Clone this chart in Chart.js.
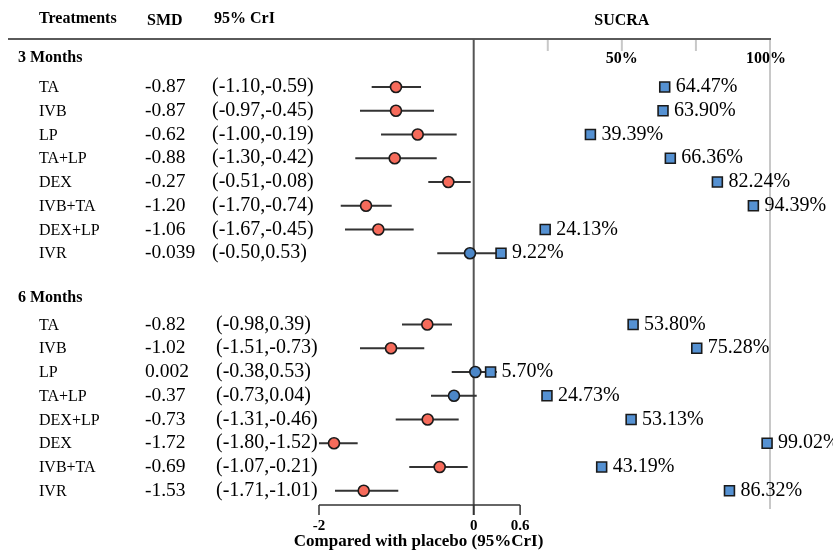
<!DOCTYPE html>
<html>
<head>
<meta charset="utf-8">
<script src="https://cdn.jsdelivr.net/npm/chart.js@4.4.1/dist/chart.umd.min.js"></script>
<style>
html,body{margin:0;padding:0;background:#fff;}
#wrap{width:833px;height:553px;position:relative;}
</style>
</head>
<body>
<div id="wrap"><canvas id="c" width="833" height="553"></canvas></div>
<script>
// ---------- DATA ----------
const treatments3 = ['TA','IVB','LP','TA+LP','DEX','IVB+TA','DEX+LP','IVR'];
const smd3 = ['-0.87','-0.87','-0.62','-0.88','-0.27','-1.20','-1.06','-0.039'];
const crI3 = ['(-1.10,-0.59)','(-0.97,-0.45)','(-1.00,-0.19)','(-1.30,-0.42)','(-0.51,-0.08)','(-1.70,-0.74)','(-1.67,-0.45)','(-0.50,0.53)'];
const sucra3 = [64.47, 63.90, 39.39, 66.36, 82.24, 94.39, 24.13, 9.22];
const point3 = [-1.005, -1.005, -0.724, -1.021, -0.328, -1.392, -1.233, -0.048];
const lower3 = [-1.319, -1.470, -1.198, -1.531, -0.587, -1.719, -1.664, -0.471];
const upper3 = [-0.681, -0.513, -0.220, -0.478, -0.039, -1.060, -0.776, 0.30];
const nullCross3 = [false, false, false, false, false, false, false, true];

const treatments6 = ['TA','IVB','LP','TA+LP','DEX+LP','DEX','IVB+TA','IVR'];
const smd6 = ['-0.82','-1.02','0.002','-0.37','-0.73','-1.72','-0.69','-1.53'];
const crI6 = ['(-0.98,0.39)','(-1.51,-0.73)','(-0.38,0.53)','(-0.73,0.04)','(-1.31,-0.46)','(-1.80,-1.52)','(-1.07,-0.21)','(-1.71,-1.01)'];
const sucra6 = [53.80, 75.28, 5.70, 24.73, 53.13, 99.02, 43.19, 86.32];
const point6 = [-0.600, -1.069, 0.021, -0.255, -0.595, -1.806, -0.440, -1.422];
const lower6 = [-0.927, -1.470, -0.284, -0.552, -1.008, -2.000, -0.833, -1.793];
const upper6 = [-0.281, -0.639, 0.30, 0.039, -0.194, -1.500, -0.078, -0.975];
const nullCross6 = [false, false, true, true, false, false, false, false];

const groupTitles = ['3 Months', '6 Months'];
const headers = ['Treatments', 'SMD', '95% CrI', 'SUCRA'];
const forestTicks = [-2, 0, 0.6];
const sucraGridTicks = [25, 50, 75];
const sucraLabelTicks = [50, 100];
const axisTitle = 'Compared with placebo (95%CrI)';

// ---------- LAYOUT (rows) ----------
const rows3 = treatments3.map((_, i) => 1 + i);
const rows6 = treatments6.map((_, i) => 11 + i);
const groupRows = [-0.22, 9.86];
const headerRow = -1.9;

const SERIF = '"Liberation Serif", "Times New Roman", serif';
const RED = '#F66B5B', BLUE_DOT = '#4C87C8', BLUE_SQ = '#5591D2';

const allRows = rows3.concat(rows6);
const allPoint = point3.concat(point6);
const allLower = lower3.concat(lower6);
const allUpper = upper3.concat(upper6);
const allCross = nullCross3.concat(nullCross6);
const allSucra = sucra3.concat(sucra6);

const ciData = [];
allRows.forEach((r, i) => {
  ciData.push({x: allLower[i], y: r});
  ciData.push({x: allUpper[i], y: r});
  ciData.push({x: null, y: null});
});
const dotData = allRows.map((r, i) => ({x: allPoint[i], y: r}));
const sqData = allRows.map((r, i) => ({x: allSucra[i], y: r}));

const decor = {
  id: 'decor',
  beforeDatasetsDraw(chart) {
    const ctx = chart.ctx, x = chart.scales.x, x2 = chart.scales.x2;
    const top = chart.chartArea.top, bottom = chart.chartArea.bottom;
    ctx.save();
    // SUCRA 100% gridline and short ticks
    ctx.strokeStyle = '#c8c8c8'; ctx.lineWidth = 2;
    ctx.beginPath(); ctx.moveTo(x2.getPixelForValue(100), top); ctx.lineTo(x2.getPixelForValue(100), bottom + 4); ctx.stroke();
    sucraGridTicks.forEach(t => {
      const px = x2.getPixelForValue(t);
      ctx.beginPath(); ctx.moveTo(px, top); ctx.lineTo(px, top + 12); ctx.stroke();
    });
    // top rule
    ctx.strokeStyle = '#5a5a5a'; ctx.lineWidth = 2;
    ctx.beginPath(); ctx.moveTo(8, top); ctx.lineTo(x2.getPixelForValue(100) + 1, top); ctx.stroke();
    // zero line
    const z = x.getPixelForValue(0);
    ctx.strokeStyle = '#555'; ctx.lineWidth = 2;
    ctx.beginPath(); ctx.moveTo(z, top); ctx.lineTo(z, bottom + 10); ctx.stroke();
    // bottom axis bracket
    const a0 = x.getPixelForValue(forestTicks[0]), a1 = x.getPixelForValue(forestTicks[forestTicks.length - 1]);
    ctx.strokeStyle = '#333'; ctx.lineWidth = 1.5;
    ctx.beginPath(); ctx.moveTo(a0, bottom); ctx.lineTo(a1, bottom); ctx.stroke();
    forestTicks.forEach(t => {
      const px = x.getPixelForValue(t);
      ctx.beginPath(); ctx.moveTo(px, bottom); ctx.lineTo(px, bottom + 10); ctx.stroke();
    });
    ctx.restore();
  },
  afterDraw(chart) {
    const ctx = chart.ctx, x = chart.scales.x, x2 = chart.scales.x2, y = chart.scales.y;
    const bottom = chart.chartArea.bottom;
    ctx.save();
    ctx.fillStyle = '#000';
    ctx.textBaseline = 'middle';
    // headers
    ctx.font = 'bold 16px ' + SERIF;
    ctx.textAlign = 'left';
    const hy = y.getPixelForValue(headerRow);
    ctx.fillText(headers[0], 39, hy + 1);
    ctx.fillText(headers[1], 147, hy + 3);
    ctx.fillText(headers[2], 214, hy + 1);
    ctx.textAlign = 'center';
    ctx.fillText(headers[3], x2.getPixelForValue(50), hy + 3);
    sucraLabelTicks.forEach(t => {
      ctx.fillText(t + '%', x2.getPixelForValue(t) - (t === 100 ? 4 : 0), y.getPixelForValue(groupRows[0]) + 1);
    });
    // group titles
    ctx.textAlign = 'left';
    groupTitles.forEach((g, k) => ctx.fillText(g, 18, y.getPixelForValue(groupRows[k])));
    // rows
    const blocks = [[treatments3, smd3, crI3, rows3, 212], [treatments6, smd6, crI6, rows6, 216]];
    blocks.forEach(([tr, sm, ci, rows, cx]) => {
      rows.forEach((r, i) => {
        const py = y.getPixelForValue(r);
        ctx.font = '16px ' + SERIF;
        ctx.fillText(tr[i], 39, py + 1);
        ctx.font = '19.5px ' + SERIF;
        ctx.fillText(sm[i], 145, py);
        ctx.font = '20px ' + SERIF;
        ctx.fillText(ci[i], cx, py);
      });
    });
    // SUCRA labels
    ctx.font = '20px ' + SERIF;
    allRows.forEach((r, i) => {
      ctx.fillText(allSucra[i].toFixed(2) + '%', x2.getPixelForValue(allSucra[i]) + 11, y.getPixelForValue(r));
    });
    // bottom tick labels
    ctx.font = 'bold 15px ' + SERIF;
    ctx.textAlign = 'center';
    forestTicks.forEach(t => ctx.fillText(String(t), x.getPixelForValue(t), bottom + 21));
    ctx.font = 'bold 17px ' + SERIF;
    ctx.fillText(axisTitle, (x.getPixelForValue(forestTicks[0]) + x.getPixelForValue(forestTicks[2])) / 2 - 1, bottom + 37);
    ctx.restore();
  }
};

new Chart(document.getElementById('c'), {
  type: 'scatter',
  data: {
    datasets: [
      { label: 'SMD', data: dotData, xAxisID: 'x', yAxisID: 'y', order: 1,
        pointRadius: 5.5, pointHoverRadius: 5.5,
        pointBackgroundColor: allCross.map(c => c ? BLUE_DOT : RED),
        pointBorderColor: '#1a1a1a', pointBorderWidth: 1.6 },
      { label: 'SUCRA', data: sqData, xAxisID: 'x2', yAxisID: 'y', order: 2,
        pointStyle: 'rect', pointRadius: 7, pointHoverRadius: 7,
        pointBackgroundColor: BLUE_SQ, pointBorderColor: '#1a1a1a', pointBorderWidth: 1.6 },
      { label: '95% CrI', data: ciData, xAxisID: 'x', yAxisID: 'y', order: 3,
        showLine: true, spanGaps: false, pointRadius: 0, borderColor: '#333', borderWidth: 1.8 }
    ]
  },
  options: {
    responsive: false,
    devicePixelRatio: 1,
    animation: false,
    clip: false,
    layout: { padding: { left: 319, right: 63, top: 39, bottom: 48 } },
    plugins: { legend: { display: false }, tooltip: { enabled: false }, title: { display: false } },
    scales: {
      x: { type: 'linear', display: false, min: -2, max: 3.8306 },
      x2: { type: 'linear', display: false, min: -52.21, max: 100 },
      y: { type: 'linear', display: false, reverse: true, min: -1.021, max: 18.6 }
    }
  },
  plugins: [decor]
});
</script>
</body>
</html>
